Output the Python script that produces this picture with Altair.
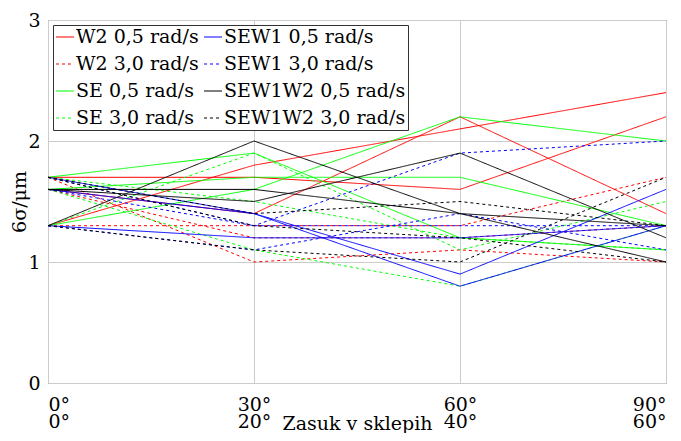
import altair as alt
import pandas as pd

# ---- data ----
X_VALUES = [0, 30, 60, 90]
TOP_LABELS = ["0°", "30°", "60°", "90°"]
BOTTOM_LABELS = ["0°", "20°", "40°", "60°"]

# legend order (column-wise, 2 columns)
SERIES = [
    "W2 0,5 rad/s", "W2 3,0 rad/s",
    "SE 0,5 rad/s", "SE 3,0 rad/s",
    "SEW1 0,5 rad/s", "SEW1 3,0 rad/s",
    "SEW1W2 0,5 rad/s", "SEW1W2 3,0 rad/s",
]
COLORS = ["#ff0000", "#ff0000", "#00ff00", "#00ff00",
          "#0000ff", "#0000ff", "#000000", "#000000"]
DASHES = [[1, 0], [3, 3], [1, 0], [3, 3], [1, 0], [3, 3], [1, 0], [3, 3]]

W2_05 = [[1.3, 1.8, 2.1, 2.4], [1.7, 1.7, 1.6, 2.2], [1.6, 1.4, 2.2, 1.4]]
W2_30 = [[1.7, 1.0, 1.1, 1.0], [1.3, 1.3, 1.3, 1.7], [1.6, 1.2, 1.2, 1.3]]
SE_05 = [[1.7, 1.9, 1.2, 1.1], [1.6, 1.7, 1.7, 1.3], [1.3, 1.6, 2.2, 2.0]]
SE_30 = [[1.3, 1.9, 1.1, 1.5], [1.6, 1.1, 0.8, 1.3], [1.7, 1.5, 1.2, 1.1]]
SEW1_05 = [[1.6, 1.4, 0.9, 1.6], [1.7, 1.4, 0.8, 1.3], [1.3, 1.2, 1.2, 1.3]]
SEW1_30 = [[1.7, 1.3, 1.9, 2.0], [1.3, 1.1, 1.4, 1.1], [1.6, 1.3, 1.3, 1.3]]
SEW1W2_05 = [[1.3, 2.0, 1.4, 1.3], [1.6, 1.5, 1.9, 1.2], [1.6, 1.6, 1.4, 1.0]]
SEW1W2_30 = [[1.3, 1.1, 1.0, 1.7], [1.7, 1.4, 1.5, 1.3], [1.7, 1.3, 1.2, 1.0]]

SERIES_LINES = {
    "W2 0,5 rad/s": W2_05,
    "W2 3,0 rad/s": W2_30,
    "SE 0,5 rad/s": SE_05,
    "SE 3,0 rad/s": SE_30,
    "SEW1 0,5 rad/s": SEW1_05,
    "SEW1 3,0 rad/s": SEW1_30,
    "SEW1W2 0,5 rad/s": SEW1W2_05,
    "SEW1W2 3,0 rad/s": SEW1W2_30,
}

rows = []
for name, lines in SERIES_LINES.items():
    for i, vals in enumerate(lines):
        for xv, yv in zip(X_VALUES, vals):
            rows.append({"x": xv, "y": yv, "series": name, "line": f"{name}-{i}"})
df = pd.DataFrame(rows)

FONT = "DejaVu Serif"

label_expr = "[{t}[indexof({v}, datum.value)], {b}[indexof({v}, datum.value)]]".format(
    t=str(TOP_LABELS), b=str(BOTTOM_LABELS), v=str(X_VALUES)
)

legend_kw = dict(title=None, orient="none", legendX=5, legendY=5,
                 columns=2, direction="vertical")

chart = alt.Chart(df).mark_line(strokeWidth=1, clip=True).encode(
    x=alt.X("x:Q",
            scale=alt.Scale(domain=[0, 90], nice=False, zero=False),
            axis=alt.Axis(values=X_VALUES, title="Zasuk v sklepih",
                          labelExpr=label_expr, labelLineHeight=17,
                          labelBaseline="top", labelPadding=12,
                          titleY=46, titleBaseline="alphabetic")),
    y=alt.Y("y:Q",
            scale=alt.Scale(domain=[0, 3], nice=False),
            axis=alt.Axis(values=[0, 1, 2, 3], title="6σ/μm", labelPadding=8,
                          titleX=-29, titleY=181.5, titleAngle=270,
                          titleAlign="center", titleBaseline="middle")),
    color=alt.Color("series:N",
                    scale=alt.Scale(domain=SERIES, range=COLORS),
                    legend=alt.Legend(**legend_kw)),
    strokeDash=alt.StrokeDash("series:N",
                              scale=alt.Scale(domain=SERIES, range=DASHES),
                              legend=alt.Legend(**legend_kw)),
    detail="line:N",
).properties(
    width=618, height=363,
    autosize=alt.AutoSizeParams(type="none"),
    padding={"left": 40, "top": 12, "right": 7, "bottom": 50},
).configure_view(
    stroke="#7a7a7a", strokeWidth=1
).configure_axis(
    grid=True, gridColor="#cccccc", gridWidth=1, domain=False, ticks=False,
    labelFont=FONT, labelFontSize=19, labelColor="#000000",
    titleFont=FONT, titleFontSize=19, titleFontWeight="normal", titleColor="#000000",
).configure_legend(
    symbolType="stroke", symbolSize=324, symbolStrokeWidth=1.2,
    labelFont=FONT, labelFontSize=19, labelColor="#000000", labelOffset=1,
    strokeColor="#333333", fillColor="#ffffff", padding=2,
    rowPadding=7, columnPadding=2, labelLimit=400,
)

chart.save("out.html", embed_options={"renderer": "svg", "actions": False})
